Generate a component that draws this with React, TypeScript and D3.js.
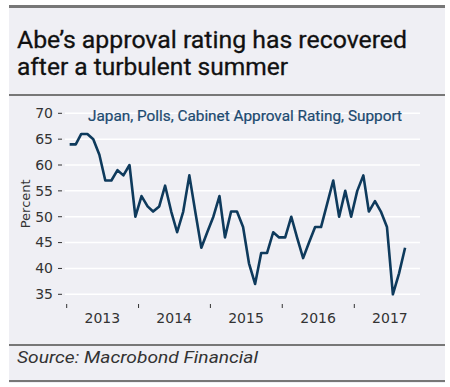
import * as d3 from 'd3'

// Cabinet approval rating (support, %), monthly Jan 2013 - Sep 2017
const startYear = 2013
const support = [
  64, 64, 66, 66, 65, 62, 57, 57, 59, 58, 60, 50,
  54, 52, 51, 52, 56, 51, 47, 51, 58, 51, 44, 47,
  50, 54, 46, 51, 51, 48, 41, 37, 43, 43, 47, 46,
  46, 50, 46, 42, 45, 48, 48, 52.5, 57, 50, 55, 50,
  55, 58, 51, 53, 51, 48, 35, 39, 44,
]
const yearLabels = ['2013', '2014', '2015', '2016', '2017']
const yTicks = [35, 40, 45, 50, 55, 60, 65, 70]

const title = ["Abe’s approval rating has recovered", 'after a turbulent summer']
const subtitle = 'Japan, Polls, Cabinet Approval Rating, Support'
const source = 'Source: Macrobond Financial'

const W = 450
const H = 387
const navy = '#0e3a5c'
const tickFont = 'DejaVu Sans, sans-serif'

export default function App() {
  const points = support.map((v, i) => ({
    date: new Date(startYear, i, 16),
    value: v,
  }))

  const x = d3.scaleTime()
    .domain([new Date(2013, 0, 1), new Date(2017, 0, 1)])
    .range([66.7, 354.3])
  const y = d3.scaleLinear().domain([35, 70]).range([294.3, 113.3])

  const line = d3.line<{ date: Date; value: number }>()
    .x(d => x(d.date))
    .y(d => y(d.value))

  const gridX0 = 65
  const gridX1 = 420
  const axisY = 304

  return (
    <svg width={W} height={H} style={{ position: 'absolute', left: 0, top: 0 }}>
      <rect x={0} y={0} width={W} height={H} fill="#fff" />
      <rect x={9} y={6} width={436} height={377} fill="#efeff4" />

      {/* frame rules */}
      <rect x={9} y={5} width={436} height={3} fill="#777" />
      <rect x={9} y={94} width={436} height={2} fill="#777" />
      <rect x={9} y={344} width={436} height={2} fill="#777" />
      <rect x={9} y={380} width={436} height={2} fill="#777" />

      <text x={17} y={48} fontFamily="Roboto, sans-serif" fontSize={24}
        fill="#111" stroke="#111" strokeWidth={0.3}
        textLength={390} lengthAdjust="spacingAndGlyphs">{title[0]}</text>
      <text x={17} y={75} fontFamily="Roboto, sans-serif" fontSize={24}
        fill="#111" stroke="#111" strokeWidth={0.3}
        textLength={271} lengthAdjust="spacingAndGlyphs">{title[1]}</text>

      {/* gridlines */}
      {yTicks.map(t => (
        <g key={t}>
          <line x1={gridX0} x2={gridX1} y1={y(t)} y2={y(t)} stroke="#fff" strokeWidth={1.5} />
          <line x1={58} x2={62} y1={y(t)} y2={y(t)} stroke="#333" strokeWidth={1} />
          <text x={53} y={y(t)} dy="0.35em" textAnchor="end" fontFamily={tickFont}
            fontSize={14} fill="#333">{t}</text>
        </g>
      ))}

      <text x={88} y={121} fontFamily="Roboto, sans-serif" fontSize={14}
        fill="#1c4a70" stroke="#1c4a70" strokeWidth={0.2}
        textLength={314} lengthAdjust="spacingAndGlyphs">{subtitle}</text>

      <text transform={`translate(30,${y(52.5)}) rotate(-90)`} textAnchor="middle"
        fontFamily={tickFont} fontSize={13} fill="#333">Percent</text>

      {/* x axis */}
      {yearLabels.map((lab, i) => {
        const yr = startYear + i
        const x0 = x(new Date(yr, 0, 1))
        const xm = x(new Date(yr, 6, 1))
        return (
          <g key={lab}>
            <line x1={x0} x2={x0} y1={axisY} y2={axisY + 4} stroke="#333" strokeWidth={1} />
            <text x={xm} y={323} textAnchor="middle" fontFamily={tickFont} fontSize={14}
              fill="#333">{lab}</text>
          </g>
        )
      })}

      <path d={line(points) ?? ''} fill="none" stroke={navy} strokeWidth={2.6}
        strokeLinejoin="round" />

      <text x={17} y={363} fontFamily="Roboto, sans-serif" fontStyle="italic" fontSize={16}
        fill="#333" textLength={241} lengthAdjust="spacingAndGlyphs">{source}</text>
    </svg>
  )
}
